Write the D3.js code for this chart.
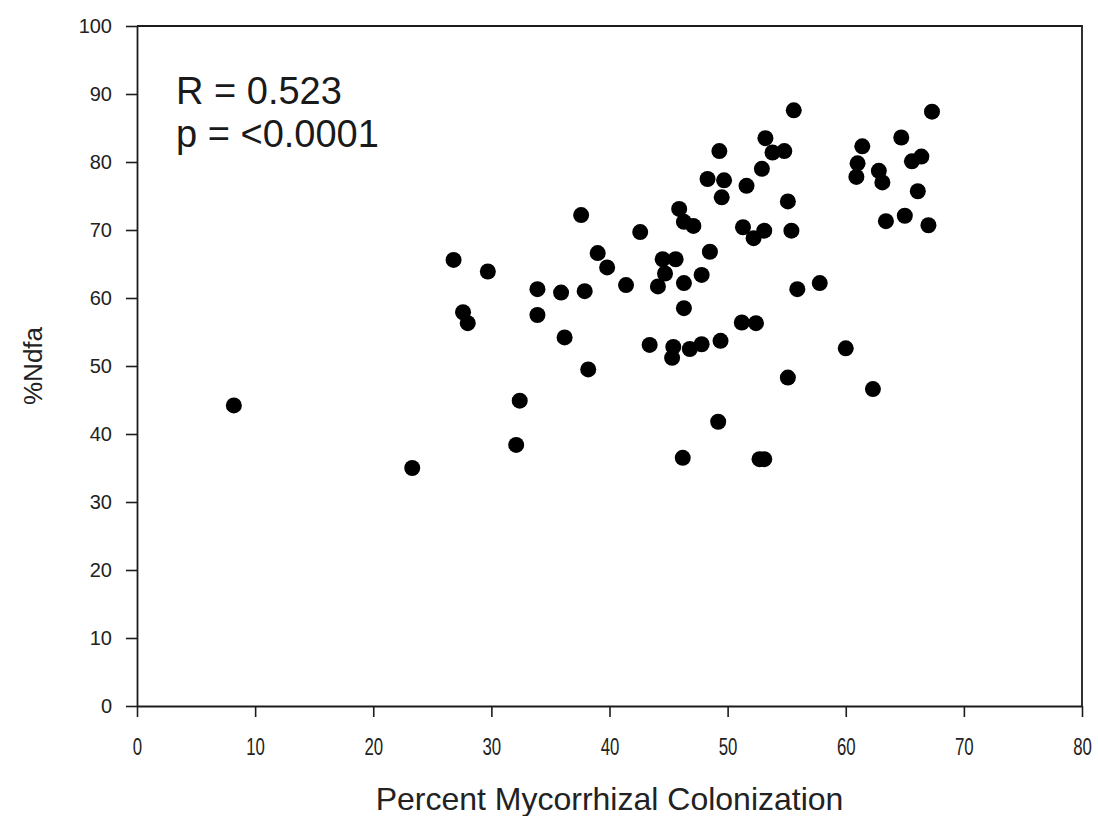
<!DOCTYPE html>
<html>
<head>
<meta charset="utf-8">
<script src="https://cdn.jsdelivr.net/npm/d3@7"></script>
<style>
  html, body { margin: 0; padding: 0; background: #fff; }
  svg { display: block; font-family: "Liberation Sans", Arial, sans-serif; }
</style>
</head>
<body>
<svg id="chart" width="1098" height="816"></svg>
<script>
// Percent mycorrhizal colonization (x) against %Ndfa (y), one entry per plant
const colonization = [
  8.2, 23.3, 26.8, 27.6, 28.0, 29.7, 32.1, 32.4, 33.9, 33.9,
  35.9, 36.2, 37.6, 37.9, 38.2, 39.0, 39.8, 41.4, 42.6, 43.4,
  44.1, 44.5, 44.7, 45.3, 45.4, 45.6, 45.9, 46.2, 46.3, 46.3,
  46.3, 46.8, 47.1, 47.8, 47.8, 48.3, 48.5, 49.2, 49.3, 49.4,
  49.5, 49.7, 51.2, 51.3, 51.6, 52.2, 52.4, 52.7, 53.1, 52.9,
  53.1, 53.2, 53.8, 54.8, 55.1, 55.1, 55.4, 55.6, 55.9, 57.8,
  60.0, 60.9, 61.0, 61.4, 62.3, 62.8, 63.1, 63.4, 64.7, 65.0,
  65.6, 66.1, 66.4, 67.0, 67.3
];
const ndfa = [
  44.2, 35.0, 65.6, 57.9, 56.3, 63.9, 38.4, 44.9, 61.3, 57.5,
  60.8, 54.2, 72.2, 61.0, 49.5, 66.6, 64.5, 61.9, 69.7, 53.1,
  61.7, 65.7, 63.6, 51.2, 52.8, 65.7, 73.1, 36.5, 71.2, 62.2,
  58.5, 52.5, 70.6, 63.4, 53.2, 77.5, 66.8, 41.8, 81.6, 53.7,
  74.8, 77.3, 56.4, 70.4, 76.5, 68.8, 56.3, 36.3, 36.3, 79.0,
  69.9, 83.5, 81.4, 81.6, 74.2, 48.3, 69.9, 87.6, 61.3, 62.2,
  52.6, 77.8, 79.8, 82.3, 46.6, 78.7, 77.0, 71.3, 83.6, 72.1,
  80.1, 75.7, 80.8, 70.7, 87.4
];

const xTicks = [0, 10, 20, 30, 40, 50, 60, 70, 80];
const yTicks = [0, 10, 20, 30, 40, 50, 60, 70, 80, 90, 100];

const xTitle = "Percent Mycorrhizal Colonization";
const yTitle = "%Ndfa";
const statLines = ["R = 0.523", "p = <0.0001"];

const svg = d3.select("#chart");
const plot = { left: 137, right: 1082, top: 26, bottom: 706 };

const x = d3.scaleLinear().domain([0, 80]).range([plot.left, plot.right]);
const y = d3.scaleLinear().domain([0, 100]).range([plot.bottom, plot.top]);

const ink = "#1c1c1c";

// frame: top and right edges
svg.append("path")
  .attr("d", `M${plot.left},${plot.top}H${plot.right}V${plot.bottom}`)
  .attr("fill", "none").attr("stroke", ink).attr("stroke-width", 1.8);

// left axis
const yAxis = svg.append("g")
  .attr("transform", `translate(${plot.left},0)`)
  .call(d3.axisLeft(y).tickValues(yTicks).tickSize(11).tickSizeOuter(0).tickPadding(14));
yAxis.select(".domain").attr("stroke", ink).attr("stroke-width", 1.8);
yAxis.selectAll(".tick line").attr("stroke", ink).attr("stroke-width", 1.6);
yAxis.selectAll(".tick text")
  .attr("fill", "#222")
  .style("font-size", "20px")
  .style("font-family", "'Liberation Sans', Arial, sans-serif");

// bottom axis; labels are drawn tall and narrow
const xAxis = svg.append("g")
  .attr("transform", `translate(0,${plot.bottom})`)
  .call(d3.axisBottom(x).tickValues(xTicks).tickSize(11).tickSizeOuter(0));
xAxis.select(".domain").attr("stroke", ink).attr("stroke-width", 1.8);
xAxis.selectAll(".tick line").attr("stroke", ink).attr("stroke-width", 1.6);
xAxis.selectAll(".tick text")
  .attr("fill", "#222")
  .attr("y", 0)
  .attr("dy", null)
  .attr("transform", "translate(0,49) scale(0.8,1.12)")
  .style("font-size", "21px")
  .style("font-family", "'Liberation Sans', Arial, sans-serif");

// axis titles
svg.append("text")
  .attr("x", (plot.left + plot.right) / 2)
  .attr("y", 810)
  .attr("text-anchor", "middle")
  .attr("fill", "#222")
  .style("font-size", "32px")
  .text(xTitle);

svg.append("text")
  .attr("transform", `translate(42,${(plot.top + plot.bottom) / 2}) rotate(-90)`)
  .attr("text-anchor", "middle")
  .attr("fill", "#222")
  .style("font-size", "26px")
  .text(yTitle);

// statistics annotation
svg.append("text")
  .attr("x", 176).attr("y", 104)
  .attr("fill", "#1a1a1a")
  .style("font-size", "38px")
  .text(statLines[0]);
svg.append("text")
  .attr("x", 176).attr("y", 147)
  .attr("fill", "#1a1a1a")
  .style("font-size", "38px")
  .text(statLines[1]);

// data points
const points = colonization.map((c, i) => ({ c, n: ndfa[i] }));
svg.append("g")
  .selectAll("circle")
  .data(points)
  .join("circle")
  .attr("cx", d => x(d.c))
  .attr("cy", d => y(d.n))
  .attr("r", 8)
  .attr("fill", "#000");
</script>
</body>
</html>
